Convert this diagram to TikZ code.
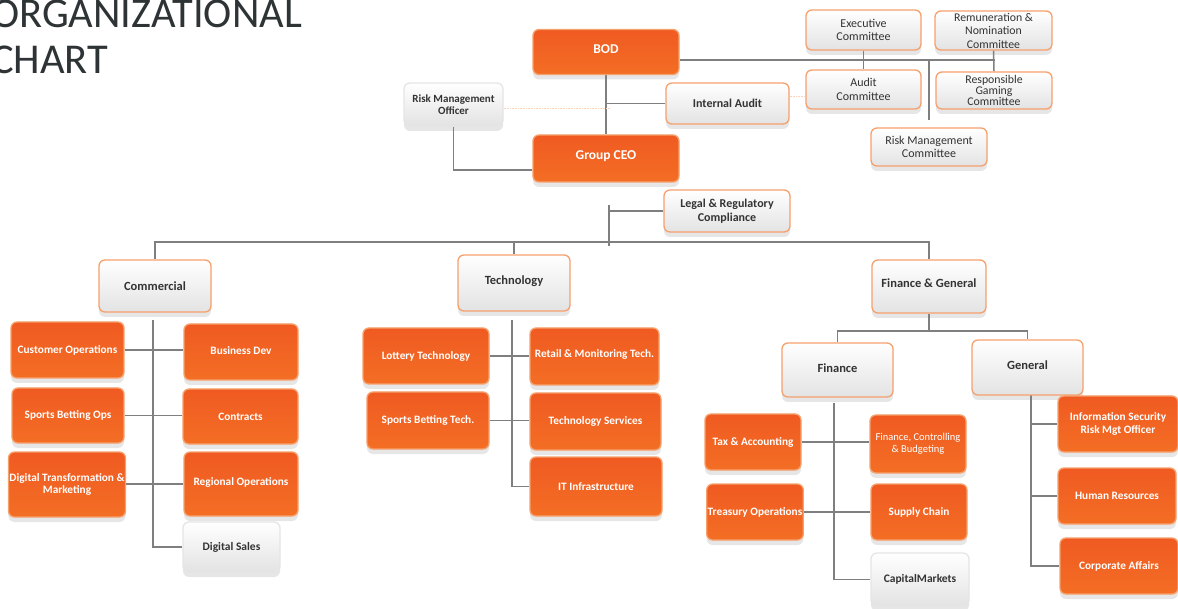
\documentclass[tikz,border=0pt]{standalone}
\usepackage{fontspec}
\setmainfont{Carlito}
\usetikzlibrary{shadows,backgrounds}
\definecolor{org}{HTML}{F05A22}
\definecolor{orgb}{HTML}{F36E24}
\definecolor{orgline}{HTML}{F6A06C}
\definecolor{lin}{HTML}{7F7F7F}
\definecolor{ttl}{HTML}{2E3335}
\definecolor{txt}{HTML}{333333}
\tikzset{
  base/.style={rounded corners=6pt, align=center, inner sep=1pt, line width=1.3pt,
    drop shadow={opacity=0.2, shadow xshift=0pt, shadow yshift=-5pt}},
  obox/.style={base, draw=orgline, top color=org, bottom color=orgb, text=white,
    font=\bfseries\fontsize{11.3}{12.5}\selectfont},
  wbox/.style={base, draw=orgline, top color=white, bottom color=black!11, text=txt,
    font=\bfseries\fontsize{12.5}{13.5}\selectfont},
  gbox/.style={base, draw=black!10, top color=white, bottom color=black!11, text=txt,
    font=\bfseries\fontsize{11.5}{12.5}\selectfont},
  cbox/.style={wbox, font=\fontsize{12}{13.5}\selectfont},
  sz/.style 2 args={minimum width=#1pt, minimum height=#2pt},
  conn/.style={draw=lin, line width=1.5pt},
  faint/.style={draw=orgline!45, line width=0.6pt, densely dotted},
}
\newcommand{\up}[2]{\raisebox{#1pt}{#2}}
\begin{document}
\begin{tikzpicture}[x=1pt,y=-1pt]
\useasboundingbox (0,0) rectangle (1178,609);
% title
\node[anchor=base west, inner sep=0pt, text=ttl, font=\fontsize{42.5}{45}\selectfont] (title1) at (-9,28) {ORGANIZATIONAL};
\node[anchor=base west, inner sep=0pt, text=ttl, font=\fontsize{42.5}{45}\selectfont] (title2) at (-9,74) {CHART};
% top
\node[obox, sz={146}{45}, font=\bfseries\fontsize{13.5}{14}\selectfont] (bod) at (606,52) {\up{6}{BOD}};
\node[wbox, sz={123}{41}, font=\bfseries\fontsize{12}{13}\selectfont] (ia) at (727.5,103.5) {Internal Audit};
\node[gbox, sz={99}{43}, font=\bfseries\fontsize{11}{12.5}\selectfont] (rmo) at (453.5,104.5) {Risk Management\\Officer};
\node[obox, sz={146}{47}, font=\bfseries\fontsize{13.5}{14}\selectfont] (ceo) at (606,158.5) {\up{7}{Group CEO}};
\node[wbox, sz={126}{42}, font=\bfseries\fontsize{12}{14}\selectfont] (legal) at (727,211) {Legal \& Regulatory\\Compliance};
% committees
\node[cbox, sz={115}{40}] (exec) at (863.5,30) {Executive\\Committee};
\node[cbox, sz={117}{39}, font=\fontsize{11.8}{13.5}\selectfont] (remu) at (993.5,30.5) {Remuneration \&\\Nomination\\Committee};
\node[cbox, sz={115}{39}] (audit) at (863.5,89.5) {Audit\\Committee};
\node[cbox, sz={116}{37}, font=\fontsize{11.8}{11}\selectfont] (resp) at (994,90.5) {Responsible\\Gaming\\Committee};
\node[cbox, sz={116}{38}] (rmc) at (929,147) {Risk Management\\Committee};
% divisions
\node[wbox, sz={112}{52}] (comm) at (155,286) {Commercial};
\node[wbox, sz={112}{56}] (tech) at (514,283) {\up{6}{Technology}};
\node[wbox, sz={114}{53}] (fg) at (929,286.5) {\up{6}{Finance \& General}};
% commercial
\node[obox, sz={113}{56}] (custops) at (67.5,350) {Customer Operations};
\node[obox, sz={114}{56}] (bizdev) at (241,352) {\up{2}{Business Dev}};
\node[obox, sz={112}{55}] (sbo) at (68,415.5) {Sports Betting Ops};
\node[obox, sz={115}{55}] (contracts) at (240.5,416.5) {Contracts};
\node[obox, sz={110}{65}] (dtm) at (67,484.5) {Digital Transformation \&\\Marketing};
\node[obox, sz={114}{64}] (regops) at (241,484) {\up{4}{Regional Operations}};
\node[gbox, sz={97}{50}] (dsales) at (231.5,547) {Digital Sales};
% technology
\node[obox, sz={126}{56}] (lottery) at (426,356) {Lottery Technology};
\node[obox, sz={129}{57}] (retail) at (594.5,356.5) {\up{5}{Retail \& Monitoring Tech.}};
\node[obox, sz={122}{57}] (sbt) at (428,420.5) {\up{2}{Sports Betting Tech.}};
\node[obox, sz={131}{57}] (techsvc) at (595.5,421.5) {Technology Services};
\node[obox, sz={132}{59}] (itinfra) at (596,486.5) {IT Infrastructure};
% finance & general
\node[wbox, sz={111}{54}] (finance) at (837.5,370) {\up{3}{Finance}};
\node[wbox, sz={111}{55}] (general) at (1027.5,367.5) {\up{5}{General}};
\node[obox, sz={96}{56}] (tax) at (753,442) {Tax \& Accounting};
\node[obox, sz={96}{58}, font=\fontsize{10.5}{13}\selectfont] (fcb) at (918,444) {\up{3}{\shortstack{Finance, Controlling\\\& Budgeting}}};
\node[obox, sz={96}{56}] (treasury) at (755,512) {Treasury Operations};
\node[obox, sz={96}{56}] (supply) at (919,512) {Supply Chain};
\node[gbox, sz={98}{53}] (capm) at (920,579.5) {CapitalMarkets};
\node[obox, sz={120}{56}] (infosec) at (1118,424) {Information Security\\Risk Mgt Officer};
\node[obox, sz={118}{56}] (hr) at (1117,496) {Human Resources};
\node[obox, sz={118}{56}] (corp) at (1119,566) {Corporate Affairs};
% connectors
\begin{pgfonlayer}{background}
\coordinate (cb) at (995,60);
\coordinate (rk) at (453.5,170);
\coordinate (cd) at (609,205);
\coordinate (cde) at (609,246);
\coordinate (busL) at (155,242);
\coordinate (cv) at (153,320);
\coordinate (tv) at (512,320);
\coordinate (fgb) at (932,331);
\coordinate (fv) at (834,403);
\coordinate (gv) at (1031,380);
\coordinate (rmoe) at (610,108);
\draw[conn] (bod.south) -- (ceo.north);
\draw[conn] (bod.south |- ia.west) -- (ia.west);
\draw[conn] (bod.east |- cb) -- (cb);
\draw[conn] (exec.south) -- (audit.north);
\draw[conn] (remu.south) -- (resp.north);
\draw[conn] (rmc.north |- cb) -- ([yshift=7pt]rmc.north);
\draw[faint] (rmo.east |- rmoe) -- (rmoe);
\draw[faint] (ia.east |- 0,96) -- (audit.west |- 0,96);
\draw[conn] (rmo.south) -- (rk) -- (ceo.west |- rk);
\draw[conn] (cd) -- (cde);
\draw[conn] (cd |- legal.west) -- (legal.west);
\draw[conn] (comm.north) -- (comm.north |- busL) -- (fg.north |- busL) -- (fg.north);
\draw[conn] (tech.north |- busL) -- (tech.north);
% commercial
\draw[conn] (cv) -- (cv |- dsales.west) -- (dsales.west);
\draw[conn] (custops.east) -- (bizdev.west |- custops.east);
\draw[conn] (sbo.east) -- (contracts.west |- sbo.east);
\draw[conn] (dtm.east |- regops.west) -- (regops.west);
% technology
\draw[conn] (tv) -- (tv |- itinfra.west) -- (itinfra.west);
\draw[conn] (lottery.east) -- (retail.west |- lottery.east);
\draw[conn] (sbt.east) -- (techsvc.west |- sbt.east);
% finance & general
\draw[conn] (fg.south) -- (fg.south |- fgb);
\draw[conn] (finance.north) -- (finance.north |- fgb) -- (general.north |- fgb) -- (general.north);
\draw[conn] (fv) -- (fv |- capm.west) -- (capm.west);
\draw[conn] (tax.east) -- (fcb.west |- tax.east);
\draw[conn] (treasury.east) -- (supply.west |- treasury.east);
\draw[conn] (gv) -- (gv |- corp.west) -- (corp.west);
\draw[conn] (gv |- infosec.west) -- (infosec.west);
\draw[conn] (gv |- hr.west) -- (hr.west);
\end{pgfonlayer}
\end{tikzpicture}
\end{document}
